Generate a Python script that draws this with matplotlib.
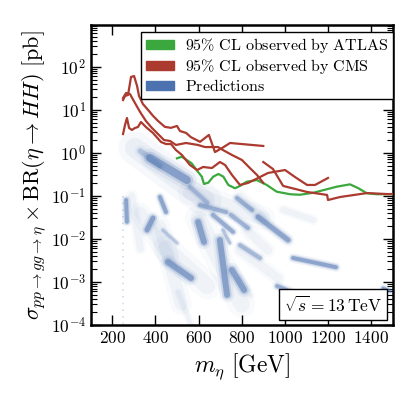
import matplotlib
matplotlib.use('Agg')
import matplotlib.pyplot as plt
from matplotlib.patches import Patch
from matplotlib.offsetbox import AnchoredText

plt.rcParams.update({
    'font.family': 'serif',
    'font.serif': ['cmr10'],
    'mathtext.fontset': 'cm',
    'axes.formatter.use_mathtext': True,
    'axes.unicode_minus': True,
})

# ---------------- data ----------------
# CMS observed limits (GeV, pb)
cms1_m = [250, 259, 273, 287, 301, 315, 324, 342, 366, 389, 412, 444, 472, 500, 514, 542, 565, 607, 648, 676, 709, 746, 900]
cms1_s = [16.8, 20.9, 22.0, 57.7, 60.8, 35.6, 20.9, 13.6, 9.9, 7.2, 5.5, 4.0, 3.8, 4.2, 3.2, 2.9, 2.3, 1.8, 2.6, 1.04, 1.29, 1.69, 1.44]

cms2_m = [250, 264, 282, 305, 329, 356, 384, 412, 440, 468, 495, 542, 597, 630, 662, 690, 713, 755, 801, 838, 871, 900]
cms2_s = [18.8, 24.5, 23.2, 14.4, 8.87, 5.48, 3.77, 2.73, 1.98, 1.88, 1.52, 1.69, 1.52, 1.36, 1.36, 1.36, 1.16, 0.889, 0.681, 0.443, 0.305, 0.20]

cms3_m = [250, 259, 268, 278, 291, 305, 319, 333, 356, 389, 426, 449, 472, 495, 523, 560, 593, 621, 662, 699, 723, 755, 792, 829, 876, 922, 1001, 1047, 1103, 1140, 1200]
cms3_s = [2.73, 4.42, 6.43, 3.77, 3.39, 3.77, 3.97, 5.19, 3.97, 2.88, 1.78, 1.60, 1.60, 1.16, 0.889, 0.521, 0.398, 0.468, 0.443, 0.611, 0.521, 0.305, 0.179, 0.199, 0.260, 0.340, 0.398, 0.274, 0.179, 0.179, 0.260]

cms4_m = [900, 945, 992, 1103, 1196, 1200, 1256, 1381, 1474, 1500]
cms4_s = [0.611, 0.420, 0.170, 0.123, 0.105, 0.080, 0.094, 0.116, 0.110, 0.110]

# ATLAS observed limit
atlas_m = [500, 522, 545, 568, 591, 615, 625, 645, 668, 692, 715, 738, 769, 792, 823, 870, 916, 962, 1024, 1070, 1132, 1194, 1240, 1302, 1341, 1380, 1426, 1500]
atlas_s = [0.745, 0.811, 0.681, 0.570, 0.398, 0.279, 0.189, 0.202, 0.279, 0.322, 0.279, 0.179, 0.150, 0.170, 0.213, 0.233, 0.179, 0.125, 0.109, 0.106, 0.118, 0.142, 0.163, 0.185, 0.150, 0.115, 0.109, 0.110]

# Predictions: dense regions of the scan, as streaks (start m, start sigma, end m, end sigma)
core_m0 = [264, 361, 421, 375, 598, 607, 667, 699, 755, 778, 876, 1038, 964, 458, 750, 1455, 792, 435, 713, 330, 560]
core_s0 = [0.080, 0.0161, 0.094, 0.757, 0.0247, 0.061, 0.0359, 0.0094, 0.0019, 0.089, 0.0323, 0.0036, 0.00080, 0.0029, 0.0359, 0.00072, 0.0072, 0.016, 0.016, 1.1, 0.16]
core_m1 = [268, 389, 449, 546, 625, 727, 760, 732, 811, 848, 1015, 1237, 1034, 565, 829, 1488, 885, 500, 745, 420, 640]
core_s1 = [0.025, 0.0306, 0.042, 0.233, 0.0085, 0.042, 0.0145, 0.00050, 0.00065, 0.047, 0.0094, 0.0022, 0.00058, 0.00123, 0.0179, 0.00062, 0.0036, 0.008, 0.008, 0.5, 0.07]

haze_m0 = [305, 505, 792, 792, 992, 792, 450, 600, 420, 560, 330, 290, 825]
haze_s0 = [1.3, 0.00058, 0.0055, 0.00123, 0.047, 0.094, 0.006, 0.03, 0.02, 0.12, 0.04, 0.1, 0.016]
haze_m1 = [630, 565, 968, 839, 1131, 894, 640, 800, 520, 900, 460, 330, 920]
haze_s1 = [0.08, 0.0001, 0.00123, 0.0005, 0.0275, 0.032, 0.0008, 0.0003, 0.0003, 0.03, 0.004, 0.006, 0.0055]

# faint column of points at the lowest mass
column_m = [250, 250]
column_s = [0.1, 0.0001]

# ---------------- styles ----------------
core_w = [4, 5, 4, 8, 6, 4, 4, 6, 6, 4, 5, 4, 4, 6, 4, 3, 4, 3, 3, 5, 4]
core_a = [1, 1, 1, 1, 1, 0.8, 0.9, 1, 1, 0.8, 1, 1, 0.9, 1, 0.8, 1, 0.7, 0.5, 0.6, 0.5, 0.6]
haze_w = [22, 5, 10, 6, 7, 10, 18, 18, 14, 16, 14, 8, 10]
haze_a = [1.4, 1, 1, 1, 1, 1, 1, 1, 1, 1, 1, 1, 1]

c_red = '#ab3a2f'
c_green = '#3aa83c'
c_blue = '#4c72b0'

fig = plt.figure(figsize=(4.05, 3.97), dpi=100)
ax = fig.add_axes([90.7 / 405, 1 - 325 / 397, 302 / 405, 300 / 397])
ax.set_yscale('log')

PX = 1 / 1.389
for m0, s0, m1, s1, w, a in zip(haze_m0, haze_s0, haze_m1, haze_s1, haze_w, haze_a):
    for fw, fa in [(1.5, 0.035), (0.9, 0.05)]:
        ax.plot([m0, m1], [s0, s1], color=c_blue, lw=w * fw * PX, alpha=fa * a,
                solid_capstyle='round', zorder=1)
ax.plot(column_m, column_s, color=c_blue, lw=1.2, alpha=0.25, ls=(0, (1, 3)), zorder=1)
for m0, s0, m1, s1, w, a in zip(core_m0, core_s0, core_m1, core_s1, core_w, core_a):
    for fw, fa in [(2.4, 0.08), (1.6, 0.2), (1.0, 0.5)]:
        ax.plot([m0, m1], [s0, s1], color=c_blue, lw=w * fw * PX, alpha=fa * a,
                solid_capstyle='round', zorder=2)

ax.plot(atlas_m, atlas_s, color=c_green, lw=1.6, zorder=4)
for mm, ss in [(cms1_m, cms1_s), (cms2_m, cms2_s), (cms3_m, cms3_s), (cms4_m, cms4_s)]:
    ax.plot(mm, ss, color=c_red, lw=1.6, zorder=5)

ax.set_xlim(100, 1500)
ax.set_ylim(1e-4, 930)
ax.set_xticks([200, 400, 600, 800, 1000, 1200, 1400])
ax.tick_params(which='both', direction='in', top=True, right=True, labelsize=12.5)
ax.tick_params(which='major', length=7, width=1)
ax.tick_params(which='minor', length=4, width=0.8)
ax.tick_params(axis='x', which='minor', bottom=False, top=False)
for sp in ax.spines.values():
    sp.set_linewidth(1.8)

ax.set_xlabel(r'$m_\eta\ [\mathrm{GeV}]$', fontsize=17, labelpad=4)
ax.set_ylabel(r'$\sigma_{pp\to gg\to\eta}\times\mathrm{BR}(\eta\to HH)\ [\mathrm{pb}]$',
              fontsize=16, labelpad=2)

handles = [Patch(facecolor=c_green, edgecolor=c_green),
           Patch(facecolor=c_red, edgecolor=c_red),
           Patch(facecolor=c_blue, edgecolor=c_blue)]
labels = [r'$\mathrm{95\%\ CL\ observed\ by\ ATLAS}$',
          r'$\mathrm{95\%\ CL\ observed\ by\ CMS}$',
          r'$\mathrm{Predictions}$']
leg = ax.legend(handles, labels, loc='upper right', bbox_to_anchor=(1.0, 1 - 6.7 / 300),
                borderaxespad=0, fontsize=11.5, fancybox=False, framealpha=1,
                edgecolor='black', handlelength=1.75, handleheight=0.5,
                labelspacing=0.12, borderpad=0.3, handletextpad=0.7)
leg.get_frame().set_linewidth(1.0)
leg.set_zorder(10)

at = AnchoredText(r'$\sqrt{s}=13\,\mathrm{TeV}$', loc='lower right', prop=dict(size=12.5),
                  frameon=True, borderpad=0.3, pad=0.3)
at.patch.set_edgecolor('black')
at.patch.set_linewidth(1.0)
at.set_zorder(10)
ax.add_artist(at)

fig.savefig('out.png', dpi=100)
